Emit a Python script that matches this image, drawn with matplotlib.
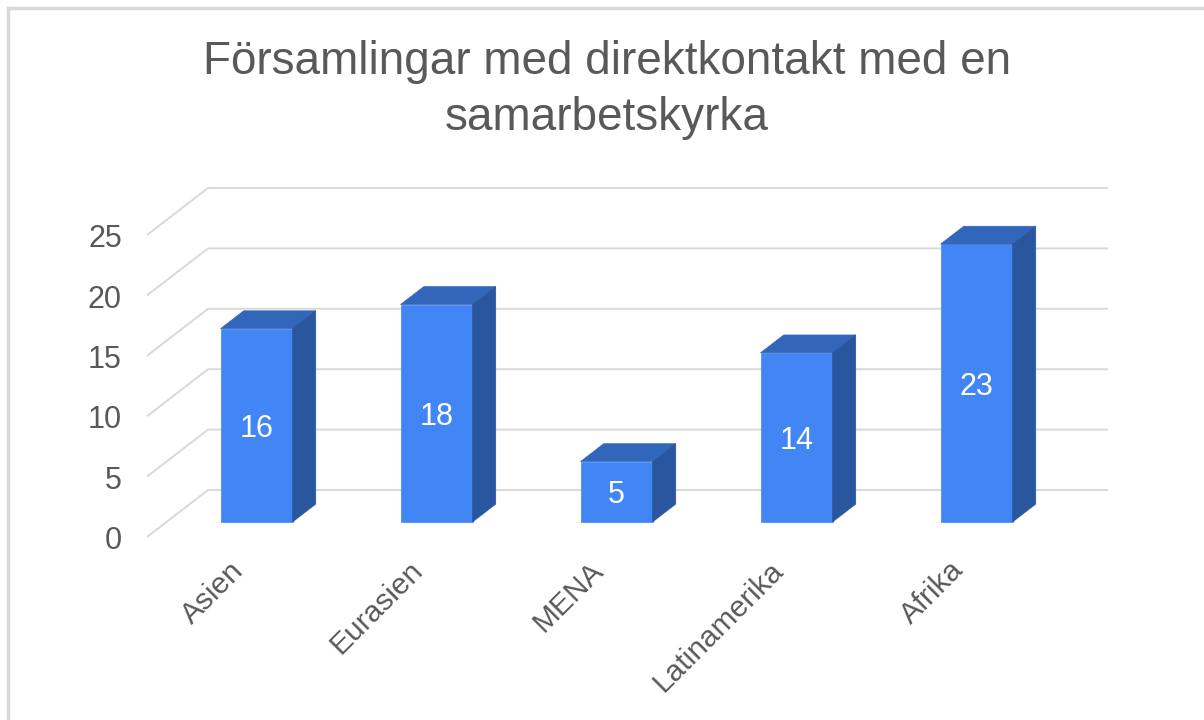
import numpy as np
import matplotlib
matplotlib.use("Agg")
import matplotlib.pyplot as plt
from matplotlib.patches import Polygon

categories = ["Asien", "Eurasien", "MENA", "Latinamerika", "Afrika"]
values = [16, 18, 5, 14, 23]
yticks = [0, 5, 10, 15, 20, 25]
title = "Församlingar med direktkontakt med en\nsamarbetskyrka"

plt.rcParams['font.family'] = ['Liberation Sans', 'DejaVu Sans']

FRONT = "#4285F4"
TOP = "#3166BA"
SIDE = "#2A569F"
GRID = "#D9D9D9"
TXT = "#595959"

# pseudo 3d: depth offset of the floor in data units
DX, DY = 0.339, 3.89
F0 = 0.32          # where the bar front sits in the depth
BD = 0.38          # bar depth as fraction of full depth
BW = 0.4           # bar width


def main():
    fig = plt.figure(figsize=(12.04, 7.2), dpi=100)
    ax = fig.add_axes([0, 0, 1, 1])
    # pixel mapping: front floor x=147..1047, value 0 at y=537, 12.08 px per unit
    ax.set_xlim(-0.5 - 147 / 180, -0.5 + (1204 - 147) / 180)
    ax.set_ylim((537 - 720) / 12.08, 537 / 12.08)
    ax.axis('off')

    n = len(categories)
    left, right = -0.5, n - 0.5
    for v in yticks:
        ax.plot([left, left + DX, right + DX], [v, v + DY, v + DY],
                color=GRID, lw=1.4, zorder=1, solid_capstyle='butt')
        ax.text(left - 0.14, v - 0.35, str(v), ha='right', va='center',
                fontsize=22, color=TXT)

    for i, (cat, v) in enumerate(zip(categories, values)):
        x0 = i - BW / 2 + F0 * DX
        y0 = F0 * DY
        x1 = x0 + BW
        dx, dy = BD * DX, BD * DY
        front = Polygon([(x0, y0), (x1, y0), (x1, y0 + v), (x0, y0 + v)],
                        closed=True, fc=FRONT, ec=FRONT, lw=0.5, zorder=3)
        top = Polygon([(x0, y0 + v), (x1, y0 + v), (x1 + dx, y0 + v + dy),
                       (x0 + dx, y0 + v + dy)],
                      closed=True, fc=TOP, ec=TOP, lw=0.5, zorder=3)
        side = Polygon([(x1, y0), (x1 + dx, y0 + dy), (x1 + dx, y0 + v + dy),
                        (x1, y0 + v)],
                       closed=True, fc=SIDE, ec=SIDE, lw=0.5, zorder=3)
        for p in (front, top, side):
            ax.add_patch(p)
        ax.text((x0 + x1) / 2, y0 + v / 2 - 0.3, str(v), ha='center', va='center',
                fontsize=22, color='white', zorder=4)
        ax.text(i + 0.01, -2.4, cat, ha='right', va='center', rotation=45,
                rotation_mode='anchor', fontsize=21.5, color=TXT)

    fig.text(0.504, 1 - 90 / 720, title, ha='center', va='center',
             fontsize=33, color=TXT, linespacing=1.37)

    # light frame on top and left like the screenshot
    fig.add_artist(plt.Line2D([8 / 1204, 8 / 1204], [0, 1 - 8 / 720],
                              transform=fig.transFigure, color="#D9D9D9", lw=2.5))
    fig.add_artist(plt.Line2D([8 / 1204, 1], [1 - 8 / 720, 1 - 8 / 720],
                              transform=fig.transFigure, color="#D9D9D9", lw=2.5))

    fig.savefig("out.png", dpi=100)


if __name__ == "__main__":
    main()
